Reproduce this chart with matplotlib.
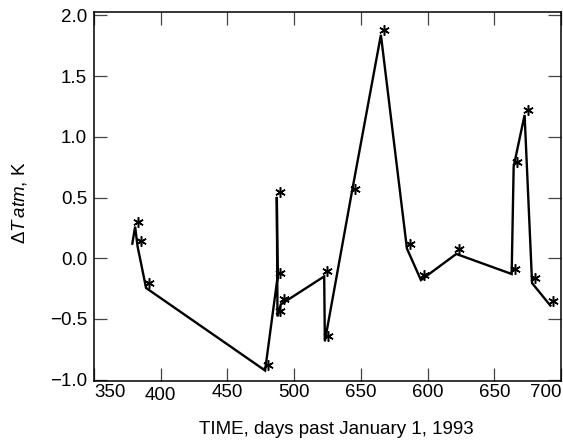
import matplotlib
matplotlib.use("Agg")
import matplotlib.pyplot as plt
import matplotlib.transforms as mtransforms

plt.rcParams['font.family'] = ['Liberation Sans', 'DejaVu Sans']
plt.rcParams['mathtext.fontset'] = 'custom'
plt.rcParams['mathtext.it'] = 'Liberation Sans:italic'
plt.rcParams['mathtext.rm'] = 'Liberation Sans'

# values
days = [378.7, 380.8, 382.6, 389.0, 478.2, 487.5, 487.0, 487.5, 490.0, 522.5, 523.0,
        543.0, 565.0, 584.5, 595.0, 621.5, 663.0, 664.5, 672.7, 678.3, 692.0]
dT = [0.12, 0.26, 0.10, -0.245, -0.925, -0.16, 0.505, -0.48, -0.38, -0.15, -0.685,
      0.53, 1.84, 0.08, -0.18, 0.035, -0.13, 0.755, 1.18, -0.205, -0.39]

xticks = [350, 400, 450, 500, 550, 600, 650, 700]
xticklabels = ['350', '400', '450', '500', '650', '600', '650', '700']
yticks = [-1.0, -0.5, 0.0, 0.5, 1.0, 1.5, 2.0]
yticklabels = ['\u22121.0', '\u22120.5', '0.0', '0.5', '1.0', '1.5', '2.0']

fig = plt.figure(figsize=(5.63, 4.43), dpi=100)
ax = fig.add_axes([0.167, 0.139, 0.8295, 0.833])

ax.plot(days, dT, color='black', lw=1.7, solid_joinstyle='miter')

# the stars sit a little up and right of the line vertices
shift = mtransforms.ScaledTranslation(0.03, 0.05, fig.dpi_scale_trans)
ax.plot(days, dT, ls='none', marker=(6, 2, 0), ms=7.5, mew=1.1, mec='black',
        markevery=list(range(1, len(days))), transform=ax.transData + shift)

ax.set_xlim(350, 700)
ax.set_ylim(-1.015, 2.025)
ax.set_xticks(xticks)
labs = ax.set_xticklabels(xticklabels, fontsize=13.5)
labs[0].set_ha('left')
labs[0].set_transform(labs[0].get_transform()
                      + mtransforms.ScaledTranslation(-0.05, 0, fig.dpi_scale_trans))
labs[-1].set_ha('right')
labs[1].set_y(-0.007)
ax.set_yticks(yticks)
ax.set_yticklabels(yticklabels, fontsize=13.5)

ax.tick_params(direction='in', length=9.5, width=0.9, color='#444444',
               top=True, right=True)
ax.tick_params(axis='x', pad=2)
ax.tick_params(axis='y', pad=5)
for sp in ax.spines.values():
    sp.set_linewidth(1.1)

ax.set_xlabel('TIME, days past January 1, 1993', fontsize=13.5)
ax.xaxis.set_label_coords(0.518, -0.108)
ax.set_ylabel(r'$ΔT\,atm$, K', fontsize=13.5, va='center')
ax.yaxis.set_label_coords(-0.159, 0.484)

fig.savefig('out.png', dpi=100)
